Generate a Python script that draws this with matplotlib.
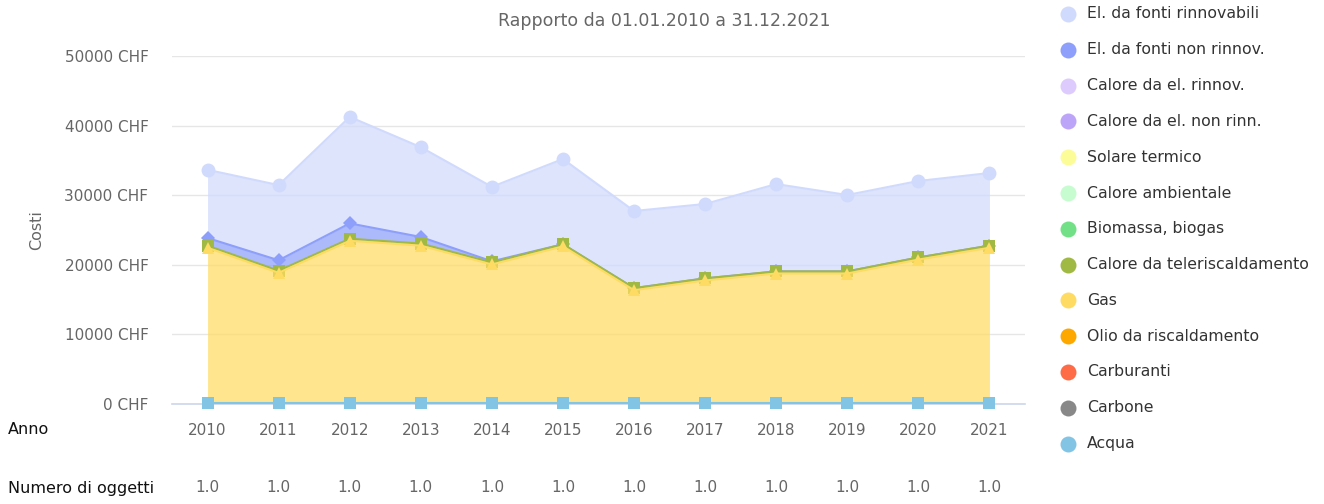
import matplotlib
matplotlib.use('Agg')
import matplotlib.pyplot as plt
import numpy as np

years = ['2010', '2011', '2012', '2013', '2014', '2015',
         '2016', '2017', '2018', '2019', '2020', '2021']
n_oggetti = ['1.0'] * 12

# series, in legend order (None = no data)
el_rinnov = [9800, 10800, 15300, 12900, 10700, 12250, 11080, 10690, 12550, 10980, 10990, 10440]
el_non_rinnov = [1100, 1500, 2200, 950, 150, 0, 0, 0, 0, 0, 0, 0]
calore_el_rinnov = None
calore_el_non_rinn = None
solare = None
calore_amb = None
biomassa = None
teleriscaldamento = [300] * 12
gas = [22300, 18700, 23300, 22600, 19900, 22500, 16200, 17600, 18600, 18600, 20600, 22300]
olio = None
carburanti = None
carbone = None
acqua = [150] * 12

names = ['El. da fonti rinnovabili', 'El. da fonti non rinnov.', 'Calore da el. rinnov.',
         'Calore da el. non rinn.', 'Solare termico', 'Calore ambientale', 'Biomassa, biogas',
         'Calore da teleriscaldamento', 'Gas', 'Olio da riscaldamento', 'Carburanti',
         'Carbone', 'Acqua']
values = [el_rinnov, el_non_rinnov, calore_el_rinnov, calore_el_non_rinn, solare, calore_amb,
          biomassa, teleriscaldamento, gas, olio, carburanti, carbone, acqua]
colors = ['#d0dafc', '#8d9ffa', '#dccbfc', '#bca4f8', '#fcfc98', '#c6fcd0', '#72e086',
          '#a0b944', '#fedb62', '#fda800', '#fd6b47', '#888888', '#82c4e4']
# highcharts default symbol cycle
symbols = ['o', 'D', 's', '^', 'v']

fig = plt.figure(figsize=(13.24, 5.04), dpi=100)
ax = fig.add_axes([172 / 1324, 100 / 504, 853 / 1324, 348 / 504])
x = np.arange(len(years))

# stack: first series on top, last at bottom
base = np.zeros(len(years))
bottoms = {}
for i in reversed(range(len(names))):
    if values[i] is None:
        continue
    v = np.array(values[i], dtype=float)
    bottoms[i] = (base.copy(), base + v)
    base = base + v

for i in range(len(names)):
    if values[i] is None:
        continue
    lo, hi = bottoms[i]
    z = 2 + i
    ax.fill_between(x, lo, hi, color=colors[i], alpha=0.72, lw=0, zorder=z)
    m = symbols[i % 5]
    ms = {'o': 10, 'D': 7, 's': 8.5, '^': 9, 'v': 9}[m]
    ax.plot(x, hi, color=colors[i], lw=1.5, marker=m, ms=ms, mew=0, zorder=z + 0.5,
            clip_on=False)

ax.set_xlim(-0.5, len(years) - 0.5)
ax.set_ylim(0, 50000)
ax.set_yticks(range(0, 50001, 10000))
ax.set_yticklabels([f'{t} CHF' for t in range(0, 50001, 10000)])
ax.set_xticks(x)
ax.set_xticklabels(years)
ax.tick_params(length=0, labelsize=11, labelcolor='#666666')
ax.tick_params(axis='y', pad=17)
ax.tick_params(axis='x', pad=14)
ax.grid(axis='y', color='#e6e6e6', lw=1)
ax.set_axisbelow(True)
for s in ['top', 'right', 'left']:
    ax.spines[s].set_visible(False)
ax.spines['bottom'].set_color('#ccd6eb')
ax.spines['bottom'].set_linewidth(1.2)
ax.spines['bottom'].set_zorder(1)
ax.set_ylabel('Costi', color='#666666', fontsize=11.5)
ax.yaxis.set_label_coords((44 - 172) / 853, 0.5)

# overlay in pixel coords for legend and table rows
ov = fig.add_axes([0, 0, 1, 1], zorder=-1)
ov.set_xlim(0, 1324)
ov.set_ylim(504, 0)
ov.axis('off')

ov.text(664, 21, 'Rapporto da 01.01.2010 a 31.12.2021', ha='center', va='center',
        fontsize=12.5, color='#666666')
for i, nm in enumerate(names):
    yy = 14 + i * 35.8
    ov.plot(1068, yy, 'o', ms=11.5, color=colors[i], mew=0)
    ov.text(1087, yy, nm, va='center', ha='left', fontsize=11.3, color='#333333')

ov.text(8, 430, 'Anno', va='center', ha='left', fontsize=11.5, color='#111111')
ov.text(8, 489, 'Numero di oggetti', va='center', ha='left', fontsize=11.5, color='#111111')
for i, t in enumerate(n_oggetti):
    px = ax.transData.transform((i, 0))[0]
    ov.text(px, 488, t, va='center', ha='center', fontsize=11, color='#666666')

fig.savefig('out.png', dpi=100)
